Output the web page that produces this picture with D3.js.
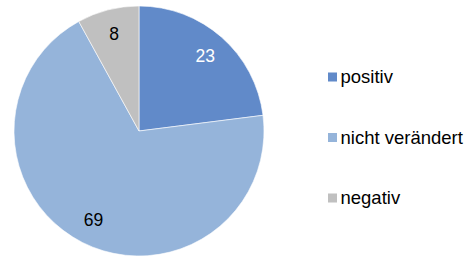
<!DOCTYPE html>
<html>
<head>
<meta charset="utf-8">
<script src="https://cdn.jsdelivr.net/npm/d3@7"></script>
<style>
  body { margin: 0; background: #fff; }
  text { font-family: "Liberation Sans", Arial, sans-serif; }
</style>
</head>
<body>
<div id="chart"></div>
<script>
// data
var categories = ["positiv", "nicht verändert", "negativ"];
var values = [23, 69, 8];
var colors = ["#618AC9", "#95B4DA", "#C0C0C0"];
var labelColors = ["#ffffff", "#000000", "#000000"];

var width = 466, height = 257;
var cx = 139, cy = 131, radius = 125;

var svg = d3.select("#chart").append("svg")
    .attr("width", width)
    .attr("height", height);

var data = categories.map(function(c, i) { return { name: c, value: values[i], idx: i }; });

var pie = d3.pie()
    .sort(null)
    .value(function(d) { return d.value; });

var arc = d3.arc().innerRadius(0).outerRadius(radius);
var labelArc = d3.arc().innerRadius(radius * 0.8).outerRadius(radius * 0.8);

var g = svg.append("g")
    .attr("transform", "translate(" + cx + "," + cy + ")");

var arcs = pie(data);

g.selectAll("path")
    .data(arcs)
    .enter().append("path")
    .attr("d", arc)
    .attr("fill", function(d) { return colors[d.data.idx]; })
    .attr("stroke", "#ffffff")
    .attr("stroke-width", 0.6);

// value labels
g.selectAll("text.val")
    .data(arcs)
    .enter().append("text")
    .attr("class", "val")
    .attr("transform", function(d) {
        var c = labelArc.centroid(d);
        return "translate(" + c[0] + "," + c[1] + ")";
    })
    .attr("text-anchor", "middle")
    .attr("dy", "0.35em")
    .attr("font-size", 17.5)
    .attr("fill", function(d) { return labelColors[d.data.idx]; })
    .text(function(d) { return d.data.value; });

// legend
var legY = d3.scalePoint().domain(categories).range([77, 198]);

var leg = svg.append("g").selectAll("g")
    .data(categories)
    .enter().append("g")
    .attr("transform", function(d) { return "translate(328," + legY(d) + ")"; });

leg.append("rect")
    .attr("x", 0)
    .attr("y", -4.5)
    .attr("width", 9)
    .attr("height", 9)
    .attr("fill", function(d, i) { return colors[i]; });

leg.append("text")
    .attr("x", 12.5)
    .attr("y", 6)
    .attr("font-size", 18.5)
    .attr("fill", "#000")
    .text(function(d) { return d; });
</script>
</body>
</html>
